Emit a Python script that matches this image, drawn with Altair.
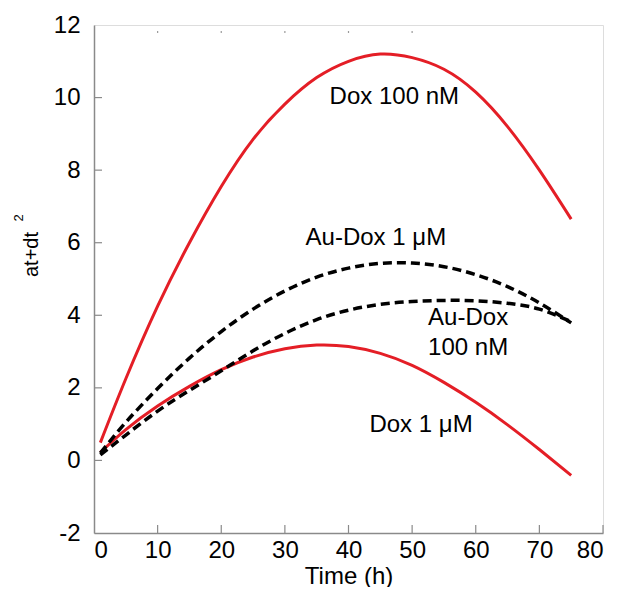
import altair as alt
import pandas as pd

# Time points (h)
time_h = [1, 5, 10, 15, 20, 25, 30, 35, 40, 45, 50, 55, 60, 65, 70, 75]

# Series values (at + d t^2)
dox_100nM = [0.49, 2.25, 4.25, 6.0, 7.55, 8.85, 9.82, 10.55, 11.0, 11.2, 11.1, 10.78, 10.15, 9.2, 8.0, 6.65]
dox_1uM = [0.22, 0.85, 1.5, 2.04, 2.5, 2.85, 3.08, 3.18, 3.14, 2.95, 2.62, 2.15, 1.6, 0.98, 0.3, -0.41]
audox_1uM = [0.2, 1.05, 1.98, 2.82, 3.55, 4.17, 4.67, 5.05, 5.3, 5.43, 5.44, 5.34, 5.12, 4.79, 4.34, 3.79]
audox_100nM = [0.15, 0.7, 1.36, 1.93, 2.47, 3.02, 3.5, 3.88, 4.14, 4.3, 4.38, 4.41, 4.4, 4.33, 4.17, 3.82]

series_names = ["Dox 100 nM", "Dox 1 μM", "Au-Dox 1 μM", "Au-Dox 100 nM"]
series_values = [dox_100nM, dox_1uM, audox_1uM, audox_100nM]
series_kind = ["Dox", "Dox", "AuDox", "AuDox"]

# Annotations
label_text = ["Dox 100 nM", "Au-Dox 1 μM", "Au-Dox", "100 nM", "Dox 1 μM"]
label_t = [47.2, 44.3, 58.8, 58.8, 51.4]
label_y = [9.81, 5.94, 3.73, 2.91, 0.79]

x_ticks = [0, 10, 20, 30, 40, 50, 60, 70, 80]
y_ticks = [-2, 0, 2, 4, 6, 8, 10, 12]
x_inner_ticks = [10, 20, 30, 40, 50, 60, 70, 80]
y_inner_ticks = [0, 2, 4, 6, 8, 10]
top_marks = [10, 20, 30, 40, 50]

rows = []
for name, vals, kind in zip(series_names, series_values, series_kind):
    for t, v in zip(time_h, vals):
        rows.append({"series": name, "kind": kind, "t": t, "y": v})
df = pd.DataFrame(rows)

labels_df = pd.DataFrame({"text": label_text, "t": label_t, "y": label_y})

FONT = "Liberation Sans"
W, H = 509, 508

xscale = alt.Scale(domain=[0, 80], nice=False, zero=False)
yscale = alt.Scale(domain=[-2, 12], nice=False, zero=False)

x_axis = alt.Axis(values=x_ticks, ticks=False, tickSize=0, grid=False, labelPadding=5,
                  labelFontSize=24, labelFont=FONT, labelColor="black",
                  domainColor="#8a8a8a", domainWidth=1.5,
                  title="Time (h)", titleFont=FONT, titleFontSize=24, titleFontWeight="normal",
                  titleColor="black", titleBaseline="alphabetic", titleY=50, titleX=W / 2,
                  titleAlign="center")
y_axis = alt.Axis(values=y_ticks, ticks=False, tickSize=0, grid=False, labelPadding=14,
                  labelFontSize=24, labelFont=FONT, labelColor="black",
                  labelExpr="toString(datum.value)",
                  domainColor="#8a8a8a", domainWidth=1.5,
                  title="at+dt", titleFont=FONT, titleFontSize=20, titleFontWeight="normal",
                  titleColor="black", titleAngle=270, titleAlign="center",
                  titleBaseline="alphabetic", titleX=-57, titleY=229)

base = alt.Chart(df)

red_lines = base.transform_filter(alt.datum.kind == "Dox").mark_line(
    color="#e41e26", strokeWidth=3, interpolate="natural"
).encode(
    x=alt.X("t:Q", scale=xscale, axis=x_axis),
    y=alt.Y("y:Q", scale=yscale, axis=y_axis),
    detail="series:N",
)

black_lines = base.transform_filter(alt.datum.kind == "AuDox").mark_line(
    color="black", strokeWidth=3.5, strokeDash=[9, 5], interpolate="natural"
).encode(
    x=alt.X("t:Q", scale=xscale),
    y=alt.Y("y:Q", scale=yscale),
    detail="series:N",
)

texts = alt.Chart(labels_df).mark_text(
    font=FONT, fontSize=24, color="black", align="center", baseline="alphabetic"
).encode(
    x=alt.X("t:Q", scale=xscale),
    y=alt.Y("y:Q", scale=yscale),
    text="text:N",
)

xt = alt.Chart(pd.DataFrame({"t": x_inner_ticks})).mark_rule(color="#8a8a8a", strokeWidth=1.2).encode(
    x=alt.X("t:Q", scale=xscale), y=alt.value(H), y2=alt.value(H - 8)
)
yt = alt.Chart(pd.DataFrame({"v": y_inner_ticks})).mark_rule(color="#8a8a8a", strokeWidth=1.2).encode(
    y=alt.Y("v:Q", scale=yscale), x=alt.value(0), x2=alt.value(8)
)
topm = alt.Chart(pd.DataFrame({"t": top_marks})).mark_rule(color="#9a9a9a", strokeWidth=1.2).encode(
    x=alt.X("t:Q", scale=xscale), y=alt.value(6), y2=alt.value(8)
)

sup = alt.Chart(pd.DataFrame({"s": ["2"]})).mark_text(
    font=FONT, fontSize=13, color="black", angle=270, align="center", baseline="alphabetic"
).encode(x=alt.value(-71), y=alt.value(193), text="s:N")

chart = alt.layer(xt, yt, topm, red_lines, black_lines, texts, sup).properties(
    width=W, height=H,
    autosize=alt.AutoSizeParams(type="none"),
    padding={"left": 86, "top": 17, "right": 8, "bottom": 54},
).configure_view(stroke=None).configure(background="white")

chart.save("out.html", embed_options={"renderer": "svg", "actions": False})
